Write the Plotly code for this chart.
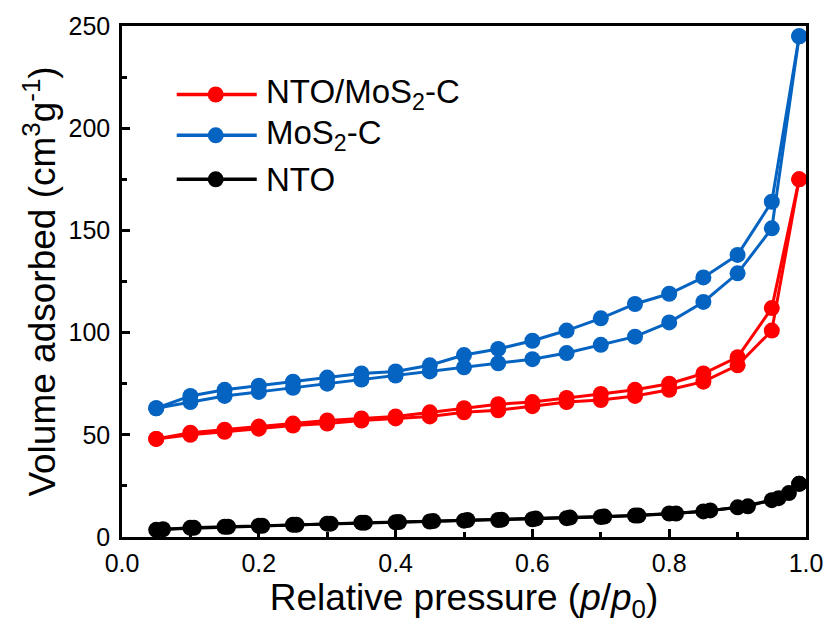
import plotly.graph_objects as go

# Relative pressure grid (adsorption branch)
p_ads = [0.05, 0.1, 0.15, 0.2, 0.25, 0.3, 0.35, 0.4, 0.45, 0.5, 0.55, 0.6,
         0.65, 0.7, 0.75, 0.8, 0.85, 0.9, 0.95, 0.99]
# Desorption branch (high to low)
p_des = [0.99, 0.95, 0.9, 0.85, 0.8, 0.75, 0.7, 0.65, 0.6, 0.55, 0.5, 0.45,
         0.4, 0.35, 0.3, 0.25, 0.2, 0.15, 0.1, 0.05]

# NTO/MoS2-C
nms_ads = [48, 50, 51.5, 53, 54.5, 55.5, 57, 58, 59, 61, 62, 64, 66, 67, 69, 72, 76, 84, 101, 175]
nms_des = [175, 112, 88, 80, 75, 72, 70, 68, 66, 65, 63, 61, 59, 58, 57, 55.5, 54, 52.5, 51, 48]

# MoS2-C
ms_ads = [63, 66, 69, 71, 73, 75, 77, 79, 81, 83, 85, 87, 90, 94, 98, 105, 115, 129, 151, 245]
ms_des = [245, 164, 138, 127, 119, 114, 107, 101, 96, 92, 89, 84, 81, 80, 78, 76, 74, 72, 69, 63]

# NTO
nto_ads_p = [0.05, 0.1, 0.15, 0.2, 0.25, 0.3, 0.35, 0.4, 0.45, 0.5, 0.55, 0.6,
             0.65, 0.7, 0.75, 0.8, 0.85, 0.9, 0.95, 0.99]
nto_ads = [3.5, 4.5, 5, 5.5, 6, 6.5, 7, 7.2, 7.6, 8, 8.3, 8.7, 9.2, 9.8, 10.5, 11.5, 12.5, 14.5, 18, 26]
nto_des_p = [0.99, 0.975, 0.96, 0.915, 0.86, 0.81, 0.755, 0.705, 0.655, 0.605, 0.555,
             0.505, 0.455, 0.405, 0.355, 0.305, 0.255, 0.205, 0.155, 0.105, 0.06]
nto_des = [26, 21.5, 19, 15, 13, 11.5, 10.5, 10, 9.5, 9, 8.5, 8.3, 7.8, 7.3, 7, 6.5, 6, 5.5, 5, 4.5, 3.8]

x_ticks = [0.0, 0.2, 0.4, 0.6, 0.8, 1.0]
x_tick_labels = ["0.0", "0.2", "0.4", "0.6", "0.8", "1.0"]
y_ticks = [0, 50, 100, 150, 200, 250]

legend_names = ["NTO/MoS<sub>2</sub>-C", "MoS<sub>2</sub>-C", "NTO"]

RED = "#FF0000"
BLUE = "#0563C1"
BLACK = "#000000"
colors = [RED, BLUE, BLACK]
FONT = "Liberation Sans, Arial, sans-serif"

fig = go.Figure()

series = [
    (p_ads, nms_ads, p_des, nms_des),
    (p_ads, ms_ads, p_des, ms_des),
    (nto_ads_p, nto_ads, nto_des_p, nto_des),
]

for name, col, (xa, ya, xd, yd) in zip(legend_names, colors, series):
    for xx, yy in ((xa, ya), (xd, yd)):
        fig.add_trace(go.Scatter(x=xx, y=yy, mode="lines+markers", name=name,
                                 line=dict(color=col, width=3),
                                 marker=dict(color=col, size=16),
                                 showlegend=False))

# Custom legend (long line samples as in the reference)
leg_y = [0.866, 0.786, 0.700]
for name, col, ly in zip(legend_names, colors, leg_y):
    fig.add_shape(type="line", xref="paper", yref="paper", x0=0.080, x1=0.197,
                  y0=ly, y1=ly, line=dict(color=col, width=3.5))
    fig.add_shape(type="circle", xref="paper", yref="paper", xsizemode="pixel",
                  ysizemode="pixel", xanchor=0.137, yanchor=ly, x0=-8, x1=8, y0=-8, y1=8,
                  fillcolor=col, line=dict(color=col, width=0))
    fig.add_annotation(x=0.208, y=ly, xref="paper", yref="paper", text=name,
                       showarrow=False, xanchor="left", yanchor="middle",
                       font=dict(family=FONT, size=33, color="black"))

axis_common = dict(
    showgrid=False, zeroline=False, showline=True, linecolor="black", linewidth=2.5,
    mirror=True, ticks="inside", ticklen=8, tickwidth=2.5, tickcolor="black",
    tickfont=dict(family=FONT, size=25, color="black"),
)

fig.update_xaxes(**axis_common, range=[0, 1.0], tickvals=x_ticks, ticktext=x_tick_labels,
                 ticklabelstandoff=2,
                 minor=dict(ticks="inside", ticklen=5, tickwidth=2.5, tickcolor="black", dtick=0.1),
                 title=dict(text="Relative pressure (<i>p</i>/<i>p</i><sub>0</sub>)",
                            font=dict(family=FONT, size=37, color="black"), standoff=4))
fig.update_yaxes(**axis_common, range=[0, 250], tickvals=y_ticks,
                 ticklabelstandoff=4,
                 minor=dict(ticks="inside", ticklen=5, tickwidth=2.5, tickcolor="black", dtick=25),
                 title=dict(text="Volume adsorbed (cm<sup>3</sup>g<sup>-1</sup>)",
                            font=dict(family=FONT, size=37, color="black"), standoff=2))

fig.update_layout(
    width=835, height=625,
    margin=dict(l=122, r=22, t=23, b=88),
    plot_bgcolor="white", paper_bgcolor="white",
    font=dict(family=FONT, color="black"),
    showlegend=False,
)

fig.write_html("out.html", config={"displayModeBar": False},
               post_script="document.body.style.margin='0';")
